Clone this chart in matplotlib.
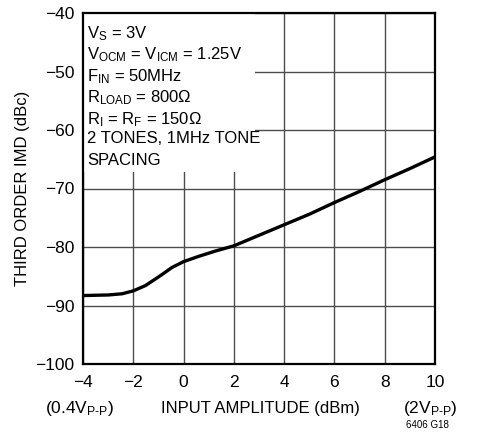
import matplotlib
matplotlib.use("Agg")
import matplotlib.pyplot as plt
from matplotlib.patches import Rectangle
import numpy as np

plt.rcParams['font.family'] = ['Liberation Sans', 'DejaVu Sans']
plt.rcParams['mathtext.fontset'] = 'custom'
plt.rcParams['mathtext.rm'] = 'Liberation Sans'
plt.rcParams['mathtext.it'] = 'Liberation Sans'
plt.rcParams['axes.unicode_minus'] = True

# data
amp_dbm = [-4, -3, -2.45, -2, -1.52, -0.99, -0.46, 0, 0.6, 1.26, 2, 3, 4, 5, 6, 7, 8, 9, 10]
imd_dbc = [-88.3, -88.2, -88.0, -87.5, -86.6, -85.1, -83.5, -82.5, -81.6, -80.7, -79.8, -78.0,
           -76.2, -74.4, -72.4, -70.5, -68.5, -66.6, -64.6]

xticks = [-4, -2, 0, 2, 4, 6, 8, 10]
yticks = [-100, -90, -80, -70, -60, -50, -40]

conditions = [
    r"V$_\mathrm{S}$ = 3V",
    r"V$_\mathrm{OCM}$ = V$_\mathrm{ICM}$ = 1.25V",
    r"F$_\mathrm{IN}$ = 50MHz",
    r"R$_\mathrm{LOAD}$ = 800Ω",
    r"R$_\mathrm{I}$ = R$_\mathrm{F}$ = 150Ω",
    "2 TONES, 1MHz TONE",
    "SPACING",
]

fig = plt.figure(figsize=(4.8, 4.32), dpi=100)
ax = fig.add_axes([83/480, (432-364)/432, (435-83)/480, (364-13)/432])

ax.plot(amp_dbm, imd_dbc, color='black', lw=2.4, zorder=5,
        solid_capstyle='round', solid_joinstyle='round')

ax.set_xlim(-4, 10)
ax.set_ylim(-100, -40)
ax.set_xticks(xticks)
ax.set_yticks(yticks)
ax.set_xticklabels([("\u2212%d" % -t) if t < 0 else str(t) for t in xticks])
ax.set_yticklabels(["\u2212%d" % -t for t in yticks])
ax.tick_params(axis='x', length=0, labelsize=12.5, pad=8)
ax.tick_params(axis='y', length=0, labelsize=12.5, pad=6)
ax.grid(True, color='#4d4d4d', lw=1.0, zorder=1)
ax.set_axisbelow(True)
for s in ax.spines.values():
    s.set_linewidth(1.6)
    s.set_zorder(6)

ax.add_patch(Rectangle((0, 0.547), 0.49, 0.453, transform=ax.transAxes,
                       facecolor='white', edgecolor='none', zorder=3))

y0 = 0.968
for i, line in enumerate(conditions):
    ax.text(0.012, y0 - i * 0.061, line, transform=ax.transAxes, fontsize=12,
            va='top', ha='left', zorder=7)

ax.set_ylabel("THIRD ORDER IMD (dBc)", fontsize=12)
ax.yaxis.set_label_coords(-0.15, 0.5)
fig.text(260/480, 1 - 409/432, "INPUT AMPLITUDE (dBm)", ha='center', va='center', fontsize=12)
fig.text(45/480, 1 - 409/432, r"(0.4V$_\mathrm{\text{P-P}}$)", ha='left', va='center', fontsize=12.5)
fig.text(403/480, 1 - 409/432, r"(2V$_\mathrm{\text{P-P}}$)", ha='left', va='center', fontsize=12.5)
fig.text(406/480, 1 - 425/432, "6406 G18", ha='left', va='center', fontsize=7)

fig.savefig("out.png", dpi=100)
